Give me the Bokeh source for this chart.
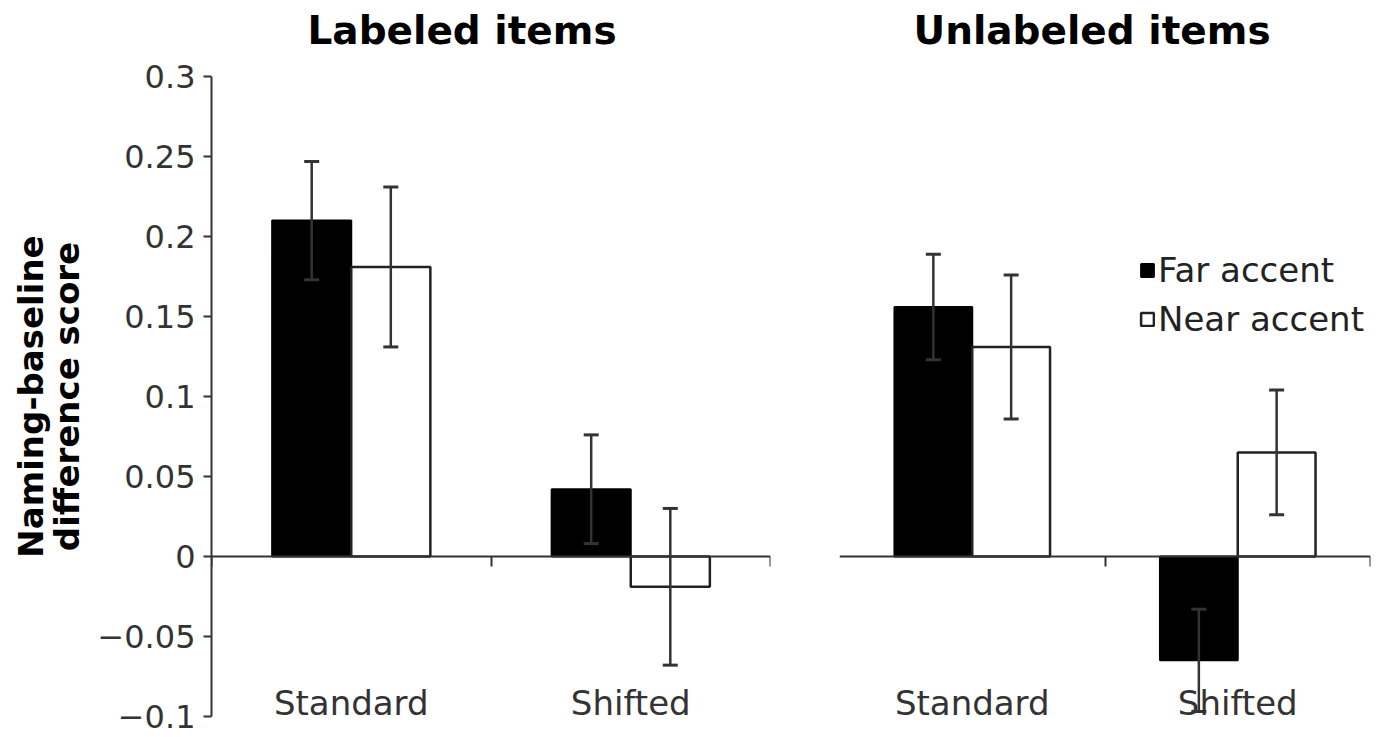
import numpy as np
from bokeh.plotting import figure
from bokeh.models import (ColumnDataSource, Range1d, LinearAxis, FixedTicker,
                          Whisker, TeeHead, Legend, LegendItem)
from bokeh.layouts import row
from bokeh.embed import file_html
from bokeh.resources import INLINE

# ---------------- data ----------------
categories = ["Standard", "Shifted"]
series = ["Far accent", "Near accent"]
panel_titles = ["Labeled items", "Unlabeled items"]

labeled_far = [0.210, 0.042]
labeled_far_err = [0.037, 0.034]
labeled_near = [0.181, -0.019]
labeled_near_err = [0.050, 0.049]

unlabeled_far = [0.156, -0.065]
unlabeled_far_err = [0.033, 0.032]
unlabeled_near = [0.131, 0.065]
unlabeled_near_err = [0.045, 0.039]

y_ticks = [-0.1, -0.05, 0, 0.05, 0.1, 0.15, 0.2, 0.25, 0.3]
y_tick_labels = ["\u22120.1", "\u22120.05", "0", "0.05", "0.1", "0.15", "0.2", "0.25", "0.3"]
y_label = "Naming-baseline\ndifference score"

# ---------------- styling ----------------
FONT = "DejaVu Sans"
INK = "#222222"
AXIS = "#333333"
HEIGHT = 735
LABEL_LEVEL = -0.078
Y_HEADROOM = 0.012   # empty room beyond the axis ends (layout only)


def make_panel(title, far, far_err, near, near_err, *, width, border_left,
               border_right, bar_w, title_offset, with_y_axis, zero_ticks):
    n = len(categories)
    p = figure(width=width, height=HEIGHT,
               x_range=Range1d(0, n),
               y_range=Range1d(y_ticks[0] - Y_HEADROOM, y_ticks[-1] + Y_HEADROOM),
               output_backend="svg", toolbar_location=None,
               x_axis_location=None,
               y_axis_location="left" if with_y_axis else None,
               min_border_left=border_left, min_border_right=border_right,
               min_border_top=57, min_border_bottom=0)
    p.outline_line_color = None
    p.background_fill_color = "white"
    p.border_fill_color = "white"
    p.xgrid.visible = False
    p.ygrid.visible = False

    p.title.text = title
    p.title.text_font = FONT
    p.title.text_font_size = "39px"
    p.title.text_font_style = "bold"
    p.title.text_color = "black"
    p.title.align = "left"
    p.title.offset = title_offset
    p.title.standoff = 10

    if with_y_axis:
        ax = p.yaxis[0]
        ax.bounds = (y_ticks[0], y_ticks[-1])
        ax.ticker = FixedTicker(ticks=y_ticks)
        ax.major_label_overrides = dict(zip(y_ticks, y_tick_labels))
        ax.axis_line_color = AXIS
        ax.axis_line_width = 2
        ax.major_tick_line_color = AXIS
        ax.major_tick_line_width = 2
        ax.major_tick_in = 0
        ax.major_tick_out = 8
        ax.minor_tick_line_color = None
        ax.major_label_text_font = FONT
        ax.major_label_text_font_size = "32px"
        ax.major_label_text_color = AXIS
        ax.major_label_standoff = 8
        ax.axis_label = y_label
        ax.axis_label_text_font = FONT
        ax.axis_label_text_font_style = "bold"
        ax.axis_label_text_font_size = "34px"
        ax.axis_label_text_line_height = 0.92
        ax.axis_label_text_color = "black"
        ax.axis_label_standoff = 7

    centers = np.arange(n) + 0.5
    far_src = ColumnDataSource(dict(x=centers - bar_w / 2, top=far,
                                    upper=np.array(far) + np.array(far_err),
                                    lower=np.array(far) - np.array(far_err)))
    near_src = ColumnDataSource(dict(x=centers + bar_w / 2, top=near,
                                     upper=np.array(near) + np.array(near_err),
                                     lower=np.array(near) - np.array(near_err)))

    r_far = p.vbar(x="x", top="top", bottom=0, width=bar_w, source=far_src,
                   fill_color="black", line_color="black", line_width=2)
    r_near = p.vbar(x="x", top="top", bottom=0, width=bar_w, source=near_src,
                    fill_color="white", line_color=INK, line_width=2.5)

    for src in (far_src, near_src):
        w = Whisker(source=src, base="x", upper="upper", lower="lower",
                    line_color=AXIS, line_width=2.5, level="overlay",
                    upper_head=TeeHead(size=15, line_color=AXIS, line_width=3),
                    lower_head=TeeHead(size=15, line_color=AXIS, line_width=3))
        p.add_layout(w)

    zero_axis = LinearAxis(fixed_location=0,
                           ticker=FixedTicker(ticks=zero_ticks),
                           major_label_overrides={t: "" for t in zero_ticks},
                           axis_line_color=AXIS, axis_line_width=2,
                           major_tick_line_color=AXIS, major_tick_line_width=2,
                           major_tick_in=0, major_tick_out=10,
                           minor_tick_line_color=None)
    p.add_layout(zero_axis, "below")

    cat_axis = LinearAxis(fixed_location=LABEL_LEVEL,
                          ticker=FixedTicker(ticks=list(centers)),
                          major_label_overrides=dict(zip(list(centers), categories)),
                          axis_line_color=None, major_tick_line_color=None,
                          minor_tick_line_color=None, major_tick_in=0, major_tick_out=0,
                          major_label_standoff=2,
                          major_label_text_font=FONT,
                          major_label_text_font_size="34px",
                          major_label_text_color=AXIS)
    p.add_layout(cat_axis, "below")
    return p, r_far, r_near


p1, _, _ = make_panel(panel_titles[0], labeled_far, labeled_far_err,
                      labeled_near, labeled_near_err,
                      width=790, border_left=211, border_right=20, bar_w=0.283,
                      title_offset=96, with_y_axis=True, zero_ticks=[0, 1, 2])

p2, rf, rn = make_panel(panel_titles[1], unlabeled_far, unlabeled_far_err,
                        unlabeled_near, unlabeled_near_err,
                        width=582, border_left=49, border_right=2, bar_w=0.293,
                        title_offset=74, with_y_axis=False, zero_ticks=[1, 2])

legend = Legend(items=[LegendItem(label=series[0], renderers=[rf]),
                       LegendItem(label=series[1], renderers=[rn])],
                location=(300, 396), glyph_width=16, glyph_height=16,
                label_standoff=3, spacing=9, padding=0, margin=0,
                border_line_color=None, background_fill_alpha=0,
                label_text_font=FONT, label_text_font_size="34px",
                label_text_color=INK)
p2.add_layout(legend)

layout = row(p1, p2)
open("out.html", "w").write(file_html(layout, INLINE))
